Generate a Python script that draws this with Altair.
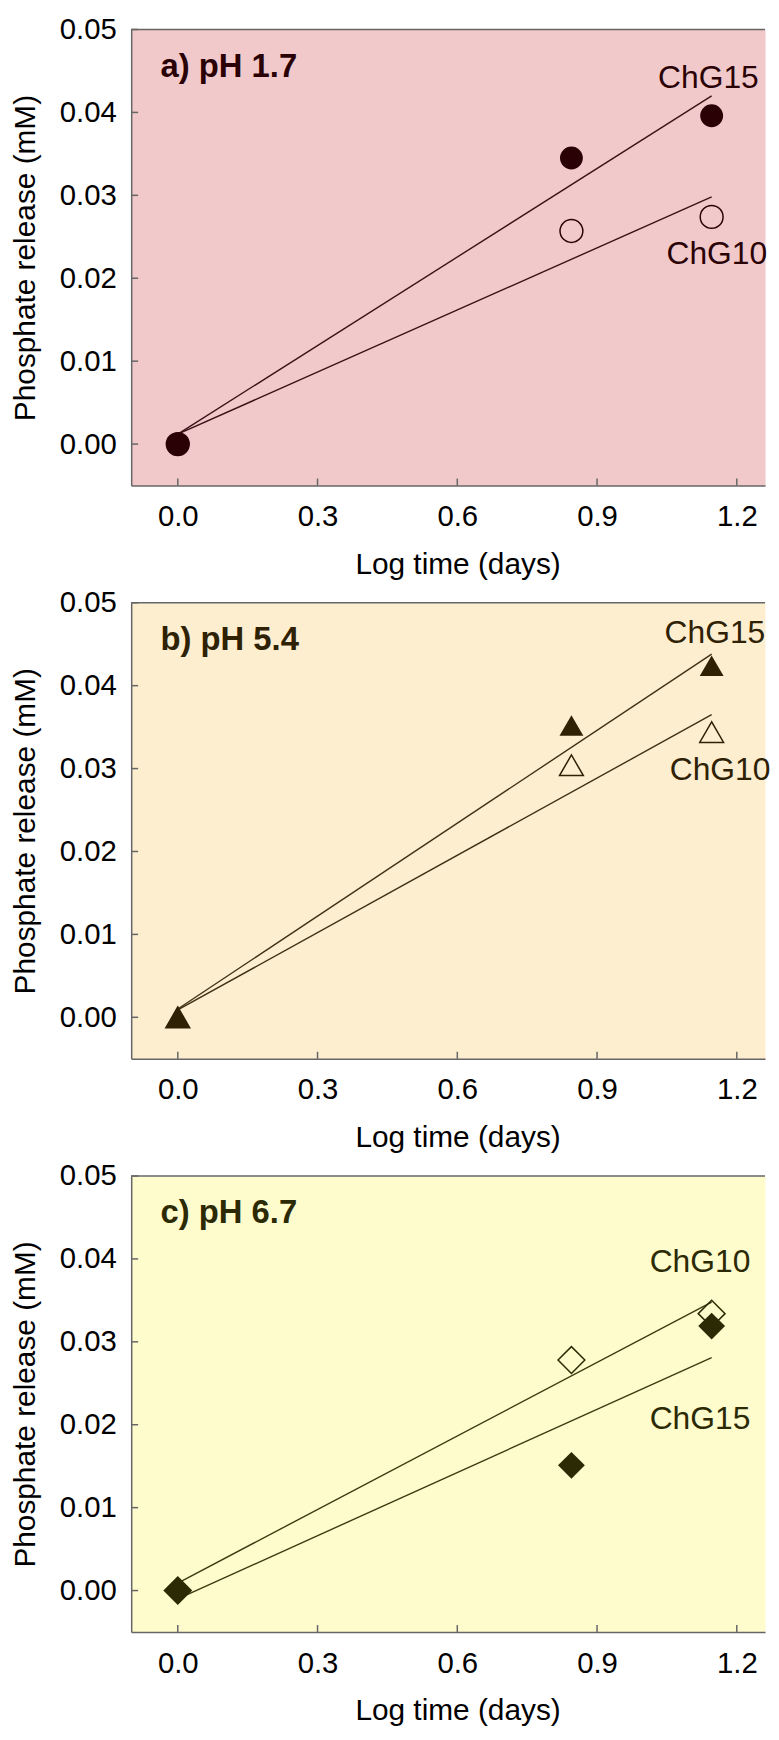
import altair as alt
import pandas as pd

FONT = "Liberation Sans"

# log10 of time in days (1, 7, 14 days)
x_log = [0.0, 0.845, 1.146]
fit_x = [0.0, 1.146]

x_ticks = [0.0, 0.3, 0.6, 0.9, 1.2]
y_ticks = [0.0, 0.01, 0.02, 0.03, 0.04, 0.05]

# panel a) pH 1.7
a_chg15 = [0.0, 0.0345, 0.0396]
a_chg10 = [0.0, 0.0257, 0.0274]
a_fit15 = [0.0012, 0.0420]
a_fit10 = [0.0012, 0.0298]

# panel b) pH 5.4
b_chg15 = [0.0, 0.0352, 0.0424]
b_chg10 = [0.0, 0.0304, 0.0344]
b_fit15 = [0.0010, 0.0438]
b_fit10 = [0.0009, 0.0365]

# panel c) pH 6.7
c_chg15 = [0.0, 0.0151, 0.0319]
c_chg10 = [0.0, 0.0278, 0.0334]
c_fit15 = [-0.0010, 0.0281]
c_fit10 = [0.0009, 0.0348]

# series label anchors (data units)
a_lab = {"ChG15": (1.139, 0.0442), "ChG10": (1.157, 0.0229)}
b_lab = {"ChG15": (1.153, 0.0464), "ChG10": (1.164, 0.0298)}
c_lab = {"ChG10": (1.121, 0.0396), "ChG15": (1.121, 0.0207)}

panel_titles = ["a) pH 1.7", "b) pH 5.4", "c) pH 6.7"]
title_pos = (-0.037, 0.0455)

X_MAX = 1.2606
W, H = 638, 459
BORDER = "#666666"


def panel(bg, ink, line_ink, shape, size, f15, o10, fit15, fit10, labs, title):
    xs = alt.Scale(domain=[-0.1, X_MAX], nice=False, zero=False)
    ys = alt.Scale(domain=[-0.005, 0.05], nice=False, zero=False)
    ax = alt.Axis(values=x_ticks, format=".1f", title="Log time (days)", titleX=328.5)
    ay = alt.Axis(values=y_ticks, format=".2f", title="Phosphate release (mM)")

    def X(f="x"):
        return alt.X(f"{f}:Q", scale=xs, axis=ax)

    def Y(f="y"):
        return alt.Y(f"{f}:Q", scale=ys, axis=ay)

    fits = pd.DataFrame({"x": fit_x * 2, "y": fit15 + fit10,
                         "s": ["ChG15"] * 2 + ["ChG10"] * 2})
    p15 = pd.DataFrame({"x": x_log, "y": f15})
    p10 = pd.DataFrame({"x": x_log, "y": o10})
    labdf = pd.DataFrame({"x": [v[0] for v in labs.values()],
                          "y": [v[1] for v in labs.values()],
                          "t": list(labs.keys())})
    tdf = pd.DataFrame({"x": [title_pos[0]], "y": [title_pos[1]], "t": [title]})
    ytk = pd.DataFrame({"y": y_ticks})
    xtk = pd.DataFrame({"x": x_ticks})

    lines = alt.Chart(fits).mark_line(color=line_ink, strokeWidth=1.4).encode(
        x=X(), y=Y(), detail="s:N")
    yt = alt.Chart(ytk).mark_rule(color=BORDER, strokeWidth=1.5).encode(
        y=Y(), x=alt.value(0), x2=alt.value(7))
    xt = alt.Chart(xtk).mark_rule(color=BORDER, strokeWidth=1.5).encode(
        x=X(), y=alt.value(H), y2=alt.value(H - 7))
    top = alt.Chart(tdf).mark_rule(color=BORDER, strokeWidth=1.5).encode(
        y=alt.Y(datum=0.05, scale=ys, axis=ay))
    opn = alt.Chart(p10).mark_point(shape=shape, size=size, filled=False,
                                    color=ink, strokeWidth=1.5, opacity=1).encode(
        x=X(), y=Y())
    fil = alt.Chart(p15).mark_point(shape=shape, size=size, filled=True,
                                    color=ink, opacity=1).encode(x=X(), y=Y())
    txt = alt.Chart(labdf).mark_text(font=FONT, fontSize=32, color=ink,
                                     align="center", baseline="middle").encode(
        x=X(), y=Y(), text="t:N")
    ttl = alt.Chart(tdf).mark_text(font=FONT, fontSize=33, fontWeight="bold",
                                   color=ink, align="left", baseline="middle").encode(
        x=X(), y=Y(), text="t:N")
    return alt.layer(lines, yt, xt, top, opn, fil, txt, ttl).properties(
        width=W, height=H,
        view=alt.ViewBackground(fill=bg, stroke="transparent"))


pa = panel("#F1C9CA", "#2A0206", "#3A1216", "circle", 529,
           a_chg15, a_chg10, a_fit15, a_fit10, a_lab, panel_titles[0])
pb = panel("#FDEED0", "#2E2104", "#3E3014", "triangle-up", 576,
           b_chg15, b_chg10, b_fit15, b_fit10, b_lab, panel_titles[1])
pc = panel("#FEFBCD", "#2B2A04", "#3B3A12", "diamond", 729,
           c_chg15, c_chg10, c_fit15, c_fit10, c_lab, panel_titles[2])

chart = alt.vconcat(pa, pb, pc, spacing=118, bounds="flush").properties(
    padding={"left": 2, "top": 0, "right": 0, "bottom": 0}
).configure_axis(
    labelFont=FONT, labelFontSize=29.5, labelColor="#000000",
    titleFont=FONT, titleFontSize=30, titleFontWeight="normal", titleColor="#000000",
    ticks=False, grid=False, domainColor=BORDER, domainWidth=1.5,
).configure_axisY(
    labelPadding=15, titlePadding=19,
).configure_axisX(
    labelPadding=17.5, titlePadding=18.5,
)

chart.save("out.html", embed_options={"renderer": "svg", "actions": False})
